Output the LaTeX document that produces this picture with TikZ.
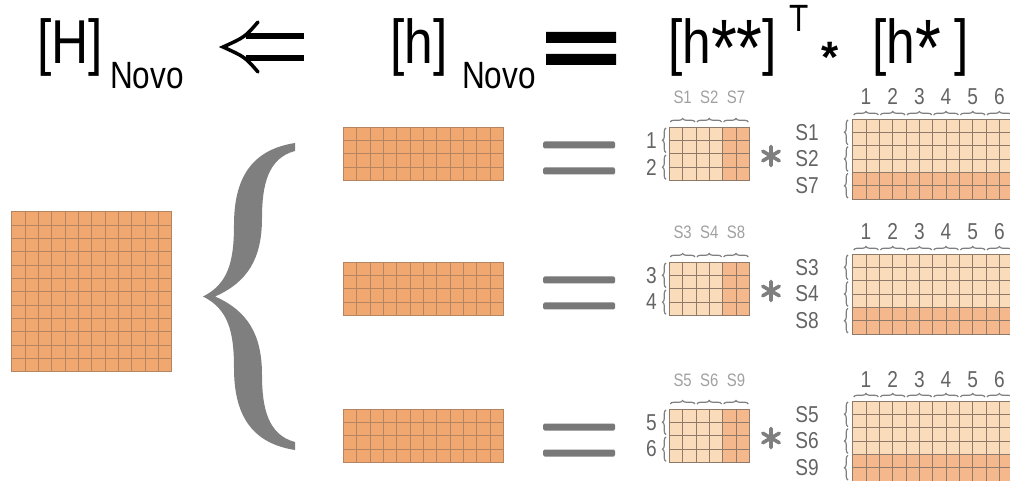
\documentclass[tikz,border=0pt]{standalone}
\usepackage{fontspec}
\setmainfont{Liberation Sans}
\newfontfamily\narrowsans[FakeStretch=0.83]{Liberation Sans}
\usetikzlibrary{calc,decorations.pathreplacing}

\definecolor{hfill}{HTML}{F0A870}
\definecolor{hline}{HTML}{B48560}
\definecolor{lightcell}{HTML}{FBDCBA}
\definecolor{darkcell}{HTML}{F4B88C}
\definecolor{cellline}{HTML}{8F7A6A}
\definecolor{braceg}{HTML}{7F7F7F}
\definecolor{labelg}{HTML}{646464}
\definecolor{lightlabel}{HTML}{A0A0A0}
\definecolor{bargray}{HTML}{787878}

% grid lines inside a rectangular node: #1 node, #2 columns, #3 rows, #4 colour
\newcommand\drawcells[4]{%
  \foreach \i in {1,...,#2}{%
    \draw[#4,line width=0.8pt] ($(#1.north west)!\i/#2!(#1.north east)$) -- ($(#1.south west)!\i/#2!(#1.south east)$);}
  \foreach \j in {1,...,#3}{%
    \draw[#4,line width=0.8pt] ($(#1.north west)!\j/#3!(#1.south west)$) -- ($(#1.north east)!\j/#3!(#1.south east)$);}
}
% enlarged asterisk used inside the heading brackets
\newcommand\bigast{\raisebox{-12pt}[0pt][0pt]{\fontsize{80}{80}\selectfont *}}
% heading text whose bracket descenders take no room below the baseline
\newcommand\nodepth[1]{\raisebox{0pt}[\height][0pt]{#1}}

\begin{document}
\begin{tikzpicture}[x=1pt,y=1pt,
  gridbox/.style={rectangle,inner sep=0pt,outer sep=0pt,anchor=north west},
  bigtxt/.style={inner sep=0pt,anchor=base west,font=\narrowsans\fontsize{62}{66}\selectfont},
  subtxt/.style={inner sep=0pt,anchor=base west,font=\narrowsans\fontsize{38}{42}\selectfont},
  axislabel/.style={inner sep=0pt,text=labelg,font=\narrowsans\fontsize{23}{26}\selectfont},
  grouplabel/.style={inner sep=0pt,anchor=base,text=lightlabel,font=\narrowsans\fontsize{18}{20}\selectfont},
  cbrace/.style={decorate,decoration={brace,amplitude=3.5pt},draw=braceg,line width=1.2pt},
  eqbar/.style={rectangle,fill=bargray,rounded corners=1.5pt,inner sep=0pt,minimum width=72pt,minimum height=7pt},
  timesmark/.style={draw=braceg,line width=3.6pt,line cap=round},
]
\useasboundingbox (0,-481) rectangle (1010,0);

% ---- heading: [H]_Novo <= [h]_Novo = [h**]^T * [h*]
\node[bigtxt] (H) at (37,-64) {[H]};
\node[subtxt] (Hsub) at (110,-89) {Novo};
\draw[line width=5.5pt] (246,-36) -- (304,-36) (246,-58) -- (304,-58);
\draw[line width=3.5pt,line cap=round] (258,-22) .. controls (245,-37) .. (223,-47) .. controls (245,-57) .. (258,-72);
\node[bigtxt] (h) at (390,-64) {[h]};
\node[subtxt] (hsub) at (462,-89) {Novo};
\fill (546,-32) rectangle (616,-43) (546,-54) rectangle (616,-65);
\node[bigtxt] (hss) at (668,-64) {\nodepth{[h\bigast\bigast]}};
\node[subtxt] (T) at (789,-32) {T};
\node[inner sep=0pt,font=\bfseries\fontsize{44}{44}\selectfont] (star) at (830,-57) {*};
\node[bigtxt] (hs) at (872,-64) {\nodepth{[h\bigast\kern14pt]}};

% ---- full matrix H
\node[gridbox,fill=hfill,minimum width=160pt,minimum height=160pt] (Hm) at (11.7,-211.7) {};
\drawcells{Hm}{12}{12}{hline}
\draw[hline,line width=0.8pt] (Hm.north west) rectangle (Hm.south east);

% ---- large curly brace
\fill[braceg] (295,-143) -- (295,-151)
  .. controls (268,-158) and (262,-185) .. (262,-218)
  .. controls (262,-258) and (248,-282) .. (215,-296.5)
  .. controls (248,-311) and (262,-335) .. (262,-375)
  .. controls (262,-408) and (268,-435) .. (295,-442)
  -- (295,-450)
  .. controls (250,-443) and (234,-413) .. (234,-368)
  .. controls (234,-331) and (228,-309) .. (203,-296.5)
  .. controls (228,-284) and (234,-262) .. (234,-225)
  .. controls (234,-180) and (250,-150) .. (295,-143) -- cycle;

% ---- the three block rows
\foreach \T/\a/\b/\c/\p/\q [count=\r] in {127/S1/S2/S7/1/2, 262/S3/S4/S8/3/4, 409/S5/S6/S9/5/6}{
  % block of h_Novo
  \node[gridbox,fill=hfill,minimum width=160pt,minimum height=53.33pt] (hn\r) at (343.3,-\T) {};
  \drawcells{hn\r}{12}{4}{hline}
  \draw[hline,line width=0.8pt] (hn\r.north west) rectangle (hn\r.south east);
  % equals sign
  \node[eqbar] (ea\r) at (579,{-(\T+18)}) {};
  \node[eqbar] (eb\r) at (579,{-(\T+44)}) {};
  % transposed factor h**
  \node[gridbox,fill=lightcell,minimum width=80pt,minimum height=53.33pt] (hk\r) at (669.3,-\T) {};
  \fill[darkcell] ($(hk\r.north west)!2/3!(hk\r.north east)$) rectangle (hk\r.south east);
  \drawcells{hk\r}{6}{4}{cellline}
  \draw[cellline,line width=0.8pt] (hk\r.north west) rectangle (hk\r.south east);
  \foreach \s [count=\k] in {\a,\b,\c}{
    \node[grouplabel] (sl\r\k) at ({669.3+26.667*(\k-0.5)},{-(\T-23)}) {\s};
    \draw[cbrace] ({669.3+26.667*(\k-1)+1},{-(\T-5)}) -- ({669.3+26.667*\k-1},{-(\T-5)});
  }
  \node[axislabel,anchor=east] (rn\r a) at (657,{-(\T+13.3)}) {\p};
  \node[axislabel,anchor=east] (rn\r b) at (657,{-(\T+40)}) {\q};
  \draw[cbrace] (666,{-(\T+25.5)}) -- (666,{-(\T+1)});
  \draw[cbrace] (666,{-(\T+52.3)}) -- (666,{-(\T+28)});
  % multiplication sign
  \coordinate (m\r) at (771,{-(\T+29)});
  \draw[timesmark] ($(m\r)+(90:9.5)$) -- ($(m\r)+(270:9.5)$)
                   ($(m\r)+(30:9.5)$) -- ($(m\r)+(210:9.5)$)
                   ($(m\r)+(150:9.5)$) -- ($(m\r)+(330:9.5)$);
  % factor h*
  \node[gridbox,fill=lightcell,minimum width=160pt,minimum height=80pt] (hb\r) at (852.7,{-(\T-8)}) {};
  \fill[darkcell] ($(hb\r.north west)!2/3!(hb\r.south west)$) rectangle (hb\r.south east);
  \drawcells{hb\r}{12}{6}{cellline}
  \draw[cellline,line width=0.8pt] (hb\r.north west) rectangle (hb\r.south east);
  \foreach \s [count=\k] in {\a,\b,\c}{
    \node[axislabel] (bl\r\k) at (807,{-(\T-8+26.667*(\k-0.5))}) {\s};
    \draw[cbrace] (848,{-(\T-8+26.667*\k-1)}) -- (848,{-(\T-8+26.667*(\k-1)+1)});
  }
  \foreach \k in {1,...,6}{
    \node[axislabel,anchor=base] (cn\r\k) at ({852.7+26.667*(\k-0.5)},{-(\T-8-14)}) {\k};
    \draw[cbrace] ({852.7+26.667*(\k-1)+1},{-(\T-8-4)}) -- ({852.7+26.667*\k-1},{-(\T-8-4)});
  }
}
\end{tikzpicture}
\end{document}
